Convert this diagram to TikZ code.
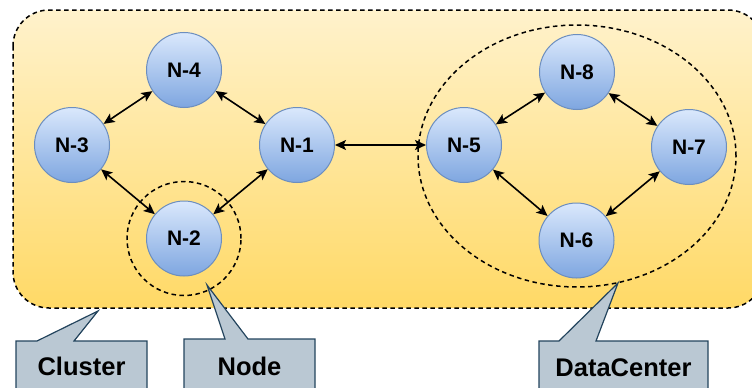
\documentclass[tikz,border=0pt]{standalone}
\usepackage{fontspec}
\setmainfont{Liberation Sans}
\usetikzlibrary{arrows.meta}
\definecolor{clustertop}{HTML}{FFF2CC}
\definecolor{clusterbot}{HTML}{FFD966}
\definecolor{nodetop}{HTML}{DAE8FC}
\definecolor{nodebot}{HTML}{7EA6E0}
\definecolor{nodeline}{HTML}{6C8EBF}
\definecolor{calloutfill}{HTML}{BAC8D3}
\definecolor{calloutline}{HTML}{23445D}
\begin{document}
\begin{tikzpicture}[x=1pt,y=-1pt,
		server/.style={circle,minimum size=75pt,inner sep=0pt,draw=nodeline,line width=1pt,
			top color=nodetop,bottom color=nodebot,font=\fontsize{21}{24}\selectfont\bfseries},
		link/.style={{Stealth[length=11pt,width=10pt,inset=2.5pt]}-{Stealth[length=11pt,width=10pt,inset=2.5pt]},line width=1.6pt},
		group/.style={dashed,dash pattern=on 4.5pt off 3.5pt,line width=1.5pt},
		callout/.style={fill=calloutfill,draw=calloutline,line width=1.2pt},
		calltext/.style={font=\fontsize{25.5}{28}\selectfont\bfseries}]
		\useasboundingbox (0,0) rectangle (752,388);
		\clip (0,0) rectangle (752,388);
		% cluster background
		\draw[group,top color=clustertop,bottom color=clusterbot,rounded corners=36pt] (13,10) rectangle (764,308);
		% groups
		\draw[group] (184,238.5) circle (57pt);
		\draw[group] (577,156) ellipse (159pt and 131pt);
		% servers
		\node[server] (n4) at (184,70) {N-4};
		\node[server] (n3) at (72,145) {N-3};
		\node[server] (n1) at (297,145) {N-1};
		\node[server] (n2) at (184,238.5) {N-2};
		\node[server] (n5) at (464,145) {N-5};
		\node[server] (n8) at (577,72) {N-8};
		\node[server] (n7) at (689,147) {N-7};
		\node[server] (n6) at (576.5,240.5) {N-6};
		% links
		\draw[link] (n3) -- (n4);
		\draw[link] (n4) -- (n1);
		\draw[link] (n3) -- (n2);
		\draw[link] (n2) -- (n1);
		\draw[link] (n1) -- (n5);
		\draw[link] (n5) -- (n8);
		\draw[link] (n8) -- (n7);
		\draw[link] (n5) -- (n6);
		\draw[link] (n6) -- (n7);
		% callouts
		\coordinate (tipcluster) at (98,311);
		\coordinate (tipnode) at (207,285);
		\coordinate (tipdc) at (618,283);
		\draw[callout] (16,400) -- (16,341) -- (37,341) -- (tipcluster) -- (74,341) -- (147,341) -- (147,400);
		\draw[callout] (184,400) -- (184,339) -- (225,339) -- (tipnode) -- (248,339) -- (315,339) -- (315,400);
		\draw[callout] (539,400) -- (539,341) -- (559,341) -- (tipdc) -- (596,341) -- (708,341) -- (708,400);
		\node[calltext] (cluster) at (81.5,366) {Cluster};
		\node[calltext] (node) at (249.5,366) {Node};
		\node[calltext] (datacenter) at (623.5,368) {DataCenter};
	\end{tikzpicture}
\end{document}
